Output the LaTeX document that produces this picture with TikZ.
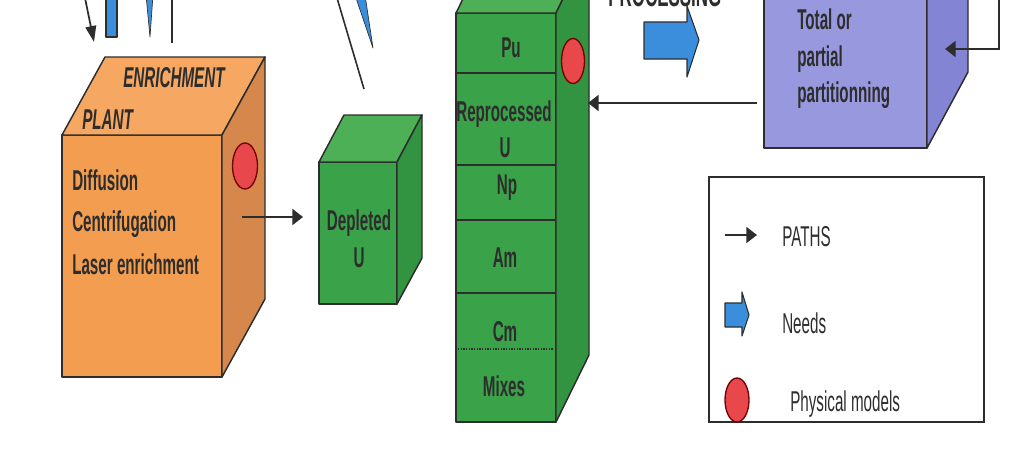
\documentclass[tikz,border=0pt]{standalone}
\usepackage{fontspec}
\usepackage{xcolor}
\usepackage{tikz}
\usetikzlibrary{arrows.meta}
\newfontfamily\narrowfont[FakeStretch=0.53]{Liberation Sans}
\definecolor{orangefront}{RGB}{243,157,80}
\definecolor{orangetop}{RGB}{246,168,98}
\definecolor{orangeside}{RGB}{214,136,76}
\definecolor{greenfront}{RGB}{58,162,72}
\definecolor{greentop}{RGB}{78,176,86}
\definecolor{greenside}{RGB}{50,148,64}
\definecolor{purplefront}{RGB}{152,152,222}
\definecolor{purpleside}{RGB}{132,132,212}
\definecolor{modelred}{RGB}{232,72,76}
\definecolor{needblue}{RGB}{58,142,220}
\definecolor{inkgrey}{RGB}{45,45,45}
\tikzset{
  face/.style={draw=inkgrey, line width=1.1pt, line join=round},
  path arrow/.style={draw=inkgrey, line width=1.6pt, -{Triangle[length=8pt,width=12pt]}},
  down arrow/.style={draw=inkgrey, line width=1.3pt, -{Triangle[length=12pt,width=8pt]}},
  model/.style={draw=red!45!black, line width=1pt, fill=modelred},
  need/.style={draw=inkgrey, line width=0.8pt, fill=needblue, line join=round},
  boxtext/.style={font=\narrowfont\fontsize{21.5}{24}\selectfont\bfseries, text=inkgrey, inner sep=0pt},
  keytext/.style={font=\narrowfont\fontsize{21.5}{24}\selectfont, text=inkgrey, inner sep=0pt},
}
\begin{document}
\begin{tikzpicture}[x=0.75pt,y=0.75pt,yscale=-1,xscale=1]
    \useasboundingbox (0,0) rectangle (1024,454);
    \clip (0,0) rectangle (1024,454);

    % pieces coming in from above
    \coordinate (feed in) at (85,-2);
    \coordinate (plant top) at (94,42);
    \draw [down arrow] (feed in) -- (plant top);
    \draw [need] (106,-5) rectangle (117,37);
    \draw [need, line width=0.5pt] (146,-5) -- (153,-5) -- (150,37) -- cycle;
    \draw [draw=inkgrey, line width=1.2pt] (172,-2) -- (172,43);
    \draw [draw=inkgrey, line width=1.2pt] (337,-2) -- (364,89);
    \draw [need, line width=0.5pt] (355,-5) -- (365,-5) -- (373,48) -- cycle;

    % enrichment plant
    \draw [face, fill=orangefront] (62,135) rectangle (222,377);
    \draw [face, fill=orangetop] (62,135) -- (105,57) -- (265,57) -- (222,135) -- cycle;
    \draw [face, fill=orangeside] (222,135) -- (265,57) -- (265,299) -- (222,377) -- cycle;
    \draw [model] (245,166) ellipse [x radius=12.5, y radius=23];
    \node [boxtext, anchor=base west] (enrich) at (123,87) {\itshape ENRICHMENT};
    \node [boxtext, anchor=base west] (plant) at (82,129) {\itshape PLANT};
    \node [boxtext, anchor=base west] (diffusion) at (72,190) {Diffusion};
    \node [boxtext, anchor=base west] (centrif) at (72,231) {Centrifugation};
    \node [boxtext, anchor=base west] (laser) at (72,274) {Laser enrichment};

    % depleted uranium
    \draw [face, fill=greenfront] (319,162) rectangle (397,304);
    \draw [face, fill=greentop] (319,162) -- (344,115) -- (422,115) -- (397,162) -- cycle;
    \draw [face, fill=greenside] (397,162) -- (422,115) -- (422,258) -- (397,304) -- cycle;
    \node [boxtext, anchor=base] (depleted) at (359,230) {Depleted};
    \node [boxtext, anchor=base] (depletedU) at (359,267) {U};

    \coordinate (plant out) at (242,217);
    \coordinate (depleted in) at (303,217);
    \draw [path arrow] (plant out) -- (depleted in);

    % stock column
    \draw [face, fill=greenfront] (456,13) rectangle (556,422);
    \draw [face, fill=greentop] (456,13) -- (489,-54) -- (589,-54) -- (556,13) -- cycle;
    \draw [face, fill=greenside] (556,13) -- (589,-54) -- (589,355) -- (556,422) -- cycle;
    \foreach \y in {73,165,220,293}
        \draw [face] (456,\y) -- (556,\y);
    \draw [draw=inkgrey, line width=1pt, densely dotted] (458,349) -- (554,349);
    \draw [model] (573,61) ellipse [x radius=11.5, y radius=22.5];
    \node [boxtext, anchor=base] (pu) at (511,57) {Pu};
    \node [boxtext, anchor=base] (repro) at (504,121) {Reprocessed};
    \node [boxtext, anchor=base] (reproU) at (505,157) {U};
    \node [boxtext, anchor=base] (np) at (507,194) {Np};
    \node [boxtext, anchor=base] (am) at (505,267) {Am};
    \node [boxtext, anchor=base] (cm) at (505,341) {Cm};
    \node [boxtext, anchor=base] (mixes) at (504,396) {Mixes};

    % processing
    \node [boxtext, anchor=base west, font=\narrowfont\fontsize{24}{26}\selectfont\bfseries] (processing) at (608,6) {PROCESSING};
    \draw [need] (644,22) -- (687,22) -- (687,6) -- (699,40) -- (687,77) -- (687,59) -- (644,59) -- cycle;

    % partitioning
    \draw [face, fill=purplefront] (764,-20) rectangle (927,148);
    \draw [face, fill=purpleside] (927,-20) -- (968,-20) -- (968,72) -- (927,148) -- cycle;
    \node [boxtext, anchor=base west] (total) at (797,29) {Total or};
    \node [boxtext, anchor=base west] (partial) at (797,66) {partial};
    \node [boxtext, anchor=base west] (partition) at (797,102) {partitionning};

    \coordinate (partition out) at (757,103);
    \coordinate (column in) at (588,103);
    \draw [path arrow] (partition out) -- (column in);
    \coordinate (loop top) at (999,-2);
    \coordinate (partition in) at (945,49);
    \draw [path arrow, line width=1.3pt] (loop top) |- (partition in);

    % key
    \draw [draw=inkgrey, line width=1.2pt] (709,177) rectangle (984,422);
    \coordinate (key a) at (725,235);
    \coordinate (key b) at (757,235);
    \draw [path arrow, line width=1.3pt] (key a) -- (key b);
    \node [keytext, anchor=base west] (paths) at (782,246) {PATHS};
    \draw [need] (725,303) -- (742,303) -- (742,292) -- (749,315) -- (742,336) -- (742,327) -- (725,327) -- cycle;
    \node [keytext, anchor=base west] (needs) at (782,333) {Needs};
    \draw [model] (737,400) ellipse [x radius=12, y radius=22];
    \node [keytext, anchor=base west] (models) at (790,411) {Physical models};
\end{tikzpicture}
\end{document}
